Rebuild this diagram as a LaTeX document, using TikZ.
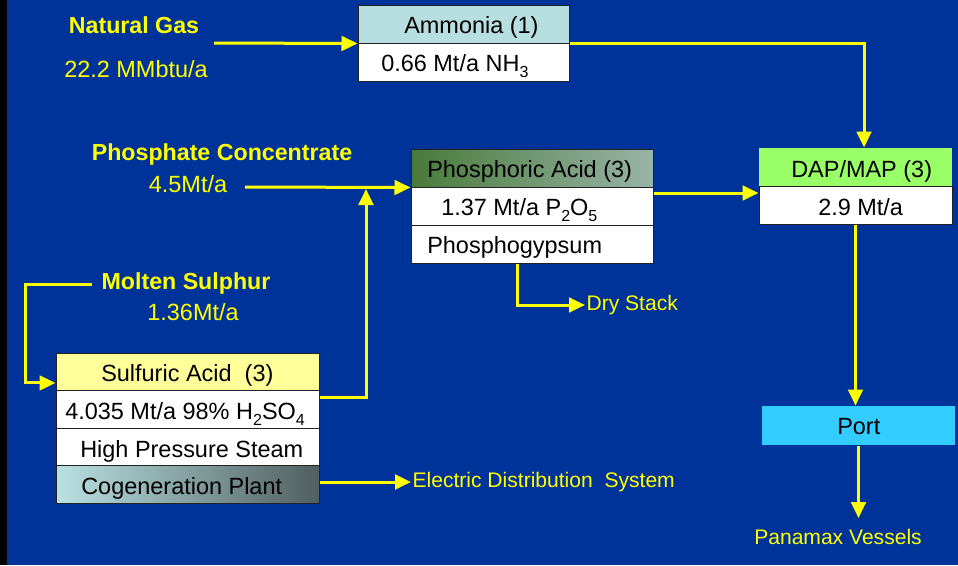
\documentclass[tikz,border=0pt]{standalone}
\usepackage{fontspec}
\setmainfont{Liberation Sans}
\usetikzlibrary{arrows.meta}
\definecolor{bgblue}{HTML}{003399}
\definecolor{flowyellow}{HTML}{FFFF00}
\definecolor{ammhead}{HTML}{B8DFE0}
\definecolor{sulfhead}{HTML}{FFFF99}
\definecolor{daphead}{HTML}{99FF66}
\definecolor{portblue}{HTML}{33CCFF}
\definecolor{phosleft}{HTML}{4A7A3A}
\definecolor{phosright}{HTML}{98B4A8}
\definecolor{cogenleft}{HTML}{BAE1E2}
\definecolor{cogenright}{HTML}{505F5F}
\definecolor{cellline}{HTML}{222222}
\newcommand{\cellfont}{\fontsize{17.6}{20}\selectfont}
\newcommand{\feedfont}{\fontsize{17.4}{20}\selectfont\bfseries}
\newcommand{\ratefont}{\fontsize{17.6}{20}\selectfont}
\newcommand{\outfont}{\fontsize{15.8}{18}\selectfont}
\newcommand{\chemsub}[1]{\raisebox{-4.5pt}{\fontsize{12}{14}\selectfont #1}}
\tikzset{flow/.style={draw=flowyellow, line width=2.25pt, -{Triangle[length=12pt,width=11pt]}},
         cell/.style={rectangle, draw=cellline, line width=0.75pt, fill=white, inner sep=0pt},
         cellw/.style={minimum width=#1*0.75pt},
         cellh/.style={minimum height=#1*0.75pt},
         celltext/.style={anchor=base west, inner sep=0pt, text=black, font=\cellfont},
         feed/.style={inner sep=1pt, text=flowyellow, font=\feedfont},
         rate/.style={inner sep=1pt, text=flowyellow, font=\ratefont},
         outlet/.style={inner sep=1pt, text=flowyellow, font=\outfont}}

\begin{document}
\begin{tikzpicture}[x=0.75pt,y=-0.75pt]
   \useasboundingbox (0,0) rectangle (958,565);
   \fill[bgblue] (0,0) rectangle (958,565);
   \fill[black]  (0,0) rectangle (7,565);

   % feeds
   \node[feed] (gas)  at (134, 25) {Natural Gas};
   \node[rate] (gasr) at (136, 69) {22.2 MMbtu/a};
   \node[feed] (phc)  at (222,154) {Phosphate Concentrate};
   \node[rate] (phcr) at (188,184) {4.5Mt/a};
   \node[feed] (sul)  at (186,283) {Molten Sulphur};
   \node[rate] (sulr) at (193,312) {1.36Mt/a};

   % ammonia
   \node[cell,cellw=211,cellh=38,fill=ammhead] (amm1) at (463.5, 24) {};
   \node[cell,cellw=211,cellh=38]              (amm2) at (463.5, 62) {};
   \node[celltext] (amm1t) at (404, 33) {Ammonia (1)};
   \node[celltext] (amm2t) at (381, 71) {0.66 Mt/a NH\chemsub{3}};

   % phosphoric acid
   \node[cell,cellw=242,cellh=38,left color=phosleft,right color=phosright] (phos1) at (532,168) {};
   \node[cell,cellw=242,cellh=38] (phos2) at (532,206) {};
   \node[cell,cellw=242,cellh=38] (phos3) at (532,244) {};
   \node[celltext] (phos1t) at (427,177) {Phosphoric Acid (3)};
   \node[celltext] (phos2t) at (441,215) {1.37 Mt/a P\chemsub{2}O\chemsub{5}};
   \node[celltext] (phos3t) at (427,253) {Phosphogypsum};

   % DAP/MAP
   \node[cell,cellw=193,cellh=38,fill=daphead,draw=none] (dap1) at (855.5,167) {};
   \node[cell,cellw=193,cellh=38] (dap2) at (855.5,205) {};
   \node[celltext] (dap1t) at (791,177) {DAP/MAP (3)};
   \node[celltext] (dap2t) at (818,215) {2.9 Mt/a};

   % port
   \node[cell,cellw=193,cellh=39,fill=portblue,draw=none] (port) at (858.5,425.5) {};
   \node[celltext] (portt) at (837,434) {Port};

   % sulfuric acid
   \node[cell,cellw=263,cellh=37.5,fill=sulfhead] (sulf1) at (187.5,371.75) {};
   \node[cell,cellw=263,cellh=37.5]               (sulf2) at (187.5,409.25) {};
   \node[cell,cellw=263,cellh=37.5]               (sulf3) at (187.5,446.75) {};
   \node[cell,cellw=263,cellh=37.5,left color=cogenleft,right color=cogenright] (sulf4) at (187.5,484.25) {};
   \node[celltext] (sulf1t) at (101,381) {Sulfuric Acid \ (3)};
   \node[celltext] (sulf2t) at ( 65,419) {4.035 Mt/a 98\% H\chemsub{2}SO\chemsub{4}};
   \node[celltext] (sulf3t) at ( 80,457) {High Pressure Steam};
   \node[celltext] (sulf4t) at ( 81,494) {Cogeneration Plant};

   % outlets
   \node[outlet,anchor=west] (dry)  at (585,305) {Dry Stack};
   \node[outlet,anchor=west] (elec) at (411,482) {Electric Distribution \ System};
   \node[outlet]             (pmx)  at (838,537) {Panamax Vessels};

   \coordinate (gasin) at (214, 43);
   \coordinate (phcin) at (245,187);
   \coordinate (sulin) at ( 92,284);
   \coordinate (join)  at (366,189);
   \coordinate (pmxin) at (857,518);

   % flows
   \draw[flow] (gasin) -- (amm1.south west);
   \draw[flow] (amm1.south east) -| ([xshift=6.4pt]dap1.north);
   \draw[flow] (phcin) -- (phos1.south west);
   \draw[flow] (sulin) -- ++(-67,0) |- ([yshift=-8.4pt]sulf1.west);
   \draw[flow] ([yshift=-4.5pt]sulf1.south east) -| (join);
   \draw[flow] ([yshift=9.75pt]phos2.east) -- ([yshift=9.75pt]phos2.east -| dap2.west);
   \draw[flow] ([xshift=-11.25pt]phos3.south) |- (dry.west);
   \draw[flow] (sulf4.east |- elec.west) -- (elec.west);
   \draw[flow] (dap2.south) -- (dap2.south |- port.north);
   \draw[flow] (port.south) -- (port.south |- pmxin);
\end{tikzpicture}
\end{document}
